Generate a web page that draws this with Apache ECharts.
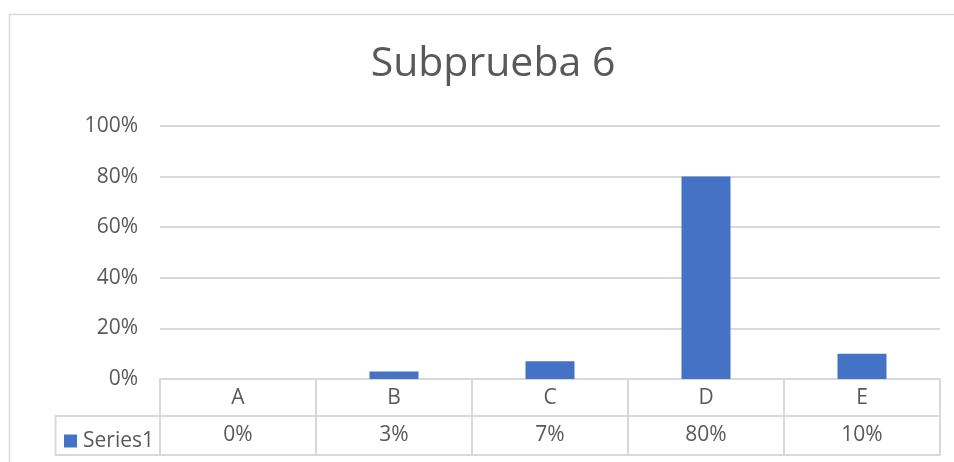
<!DOCTYPE html>
<html>
<head>
<meta charset="utf-8">
<script src="https://cdn.jsdelivr.net/npm/echarts@6/dist/echarts.min.js"></script>
<style>html,body{margin:0;padding:0;background:#fff}#c{width:954px;height:462px}</style>
</head>
<body>
<div id="c"></div>
<script>
const titleText = 'Subprueba 6';
const categories = ['A', 'B', 'C', 'D', 'E'];
const seriesName = 'Series1';
const values = [0, 0.03, 0.07, 0.80, 0.10];
const yTicks = [0, 0.2, 0.4, 0.6, 0.8, 1.0];

const pct = v => Math.round(v * 100) + '%';
const grey = '#d9d9d9';
const txt = '#595959';
const font = '"Open Sans", "Liberation Sans", sans-serif';

const chart = echarts.init(document.getElementById('c'), null, {renderer: 'canvas'});
chart.setOption({
  animation: false,
  title: {
    text: titleText, left: 488, top: 39, textAlign: 'center',
    textStyle: {fontFamily: font, fontSize: 41, fontWeight: 'normal', color: txt}
  },
  legend: {
    data: [seriesName], left: 59, top: 425, itemWidth: 13, itemHeight: 13, itemGap: 0,
    icon: 'rect', selectedMode: false,
    textStyle: {fontFamily: font, fontSize: 21, lineHeight: 22, color: txt, padding: [0, 0, 0, 1]}
  },
  grid: {left: 160, right: 14, top: 126, bottom: 83},
  graphic: [
    {type: 'rect', shape: {x: 9.5, y: 14.5, width: 960, height: 460}, style: {fill: 'none', stroke: grey, lineWidth: 1.5}, silent: true},
    {type: 'polyline', shape: {points: [[160, 416], [55.5, 416], [55.5, 455], [160, 455]]}, style: {fill: 'none', stroke: grey, lineWidth: 2}, silent: true}
  ],
  xAxis: [
    {
      type: 'category', data: categories, position: 'bottom',
      axisLine: {show: true, lineStyle: {color: grey, width: 2}},
      axisTick: {show: true, length: 76, lineStyle: {color: grey, width: 2}},
      axisLabel: {margin: 9, fontFamily: font, fontSize: 21, color: txt}
    },
    {
      type: 'category', data: categories, position: 'bottom', offset: 37,
      axisLine: {show: true, lineStyle: {color: grey, width: 2}},
      axisTick: {show: false},
      axisLabel: {margin: 9, fontFamily: font, fontSize: 21, color: txt,
        formatter: (v, i) => pct(values[i])}
    },
    {
      type: 'category', data: categories, position: 'bottom', offset: 76,
      axisLine: {show: true, lineStyle: {color: grey, width: 2}},
      axisTick: {show: false}, axisLabel: {show: false}
    }
  ],
  yAxis: {
    type: 'value', min: yTicks[0], max: yTicks[yTicks.length - 1], interval: 0.2,
    axisLine: {show: false}, axisTick: {show: false},
    axisLabel: {margin: 22, fontFamily: font, fontSize: 21, color: txt, formatter: v => pct(v)},
    splitLine: {lineStyle: {color: grey, width: 2}}
  },
  series: [{
    name: seriesName, type: 'bar', data: values, xAxisIndex: 0,
    barWidth: 49, itemStyle: {color: '#4472c4'}
  }]
});
</script>
</body>
</html>
